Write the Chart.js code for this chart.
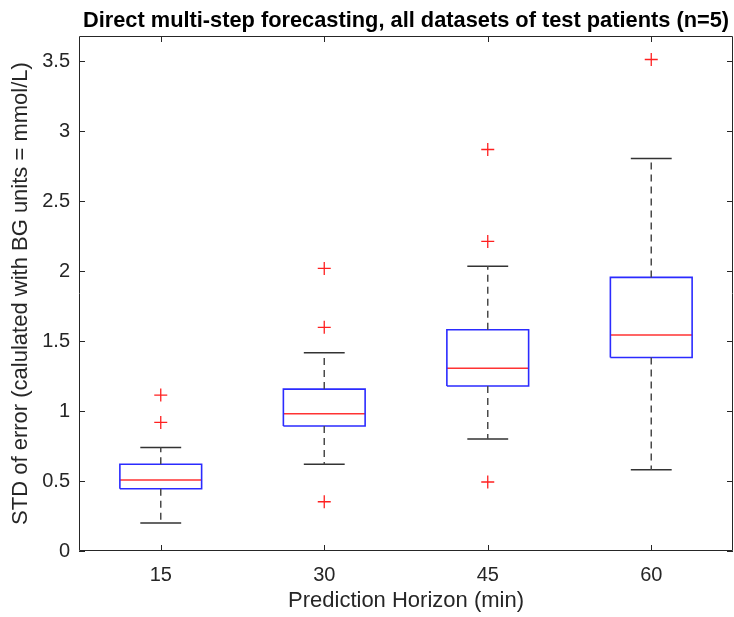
<!DOCTYPE html>
<html>
<head>
<meta charset="utf-8">
<script src="https://cdn.jsdelivr.net/npm/chart.js@4"></script>
<style>
  html, body { margin: 0; padding: 0; background: #fff; overflow: hidden; }
  #wrap { width: 734px; height: 617px; }
</style>
</head>
<body>
<div id="wrap"><canvas id="box-chart"></canvas></div>
<script>
// values
const horizons = ["15", "30", "45", "60"];
const lowerWhisker = [0.20, 0.62, 0.80, 0.58];
const q1 = [0.445, 0.893, 1.179, 1.383];
const medians = [0.507, 0.981, 1.305, 1.543];
const q3 = [0.62, 1.157, 1.581, 1.955];
const upperWhisker = [0.74, 1.417, 2.034, 2.805];
const outliers = [[1.114, 0.919], [2.019, 1.598, 0.352], [2.869, 2.212, 0.493], [3.512]];
const yTicks = [0, 0.5, 1, 1.5, 2, 2.5, 3, 3.5];
const chartTitle = "Direct multi-step forecasting, all datasets of test patients (n=5)";

const BOX_HALF = 0.25;  // half box width in category units
const CAP_HALF = 0.125; // half whisker cap width
const FONT = "Liberation Sans, Arial, sans-serif";

// build path points (null y breaks the line between boxes)
function boxPath() {
    const pts = [];
    horizons.forEach((_, i) => {
        const x = i + 1;
        pts.push({ x: x - BOX_HALF, y: q1[i] }, { x: x + BOX_HALF, y: q1[i] },
                 { x: x + BOX_HALF, y: q3[i] }, { x: x - BOX_HALF, y: q3[i] },
                 { x: x - BOX_HALF, y: q1[i] }, { x: x, y: null });
    });
    return pts;
}
function medianPath() {
    const pts = [];
    horizons.forEach((_, i) => {
        pts.push({ x: i + 1 - BOX_HALF, y: medians[i] }, { x: i + 1 + BOX_HALF, y: medians[i] }, { x: i + 1, y: null });
    });
    return pts;
}
function whiskerPath() {
    const pts = [];
    horizons.forEach((_, i) => {
        pts.push({ x: i + 1, y: q3[i] }, { x: i + 1, y: upperWhisker[i] }, { x: i + 1, y: null });
        pts.push({ x: i + 1, y: q1[i] }, { x: i + 1, y: lowerWhisker[i] }, { x: i + 1, y: null });
    });
    return pts;
}
function capPath() {
    const pts = [];
    horizons.forEach((_, i) => {
        [upperWhisker[i], lowerWhisker[i]].forEach(v => {
            pts.push({ x: i + 1 - CAP_HALF, y: v }, { x: i + 1 + CAP_HALF, y: v }, { x: i + 1, y: null });
        });
    });
    return pts;
}
function outlierPoints() {
    const pts = [];
    outliers.forEach((list, i) => list.forEach(v => pts.push({ x: i + 1, y: v })));
    return pts;
}

// MATLAB style frame with inward ticks on all four sides, title centred over the axes
const framePlugin = {
    id: "frame",
    afterDraw(chart) {
        const { ctx, chartArea: a, scales } = chart;
        const len = 6;
        ctx.save();
        ctx.strokeStyle = "#262626";
        ctx.lineWidth = 1;
        ctx.beginPath();
        ctx.rect(a.left + 0.5, a.top + 0.5, a.right - a.left - 1, a.bottom - a.top - 1);
        scales.x.ticks.forEach(t => {
            const px = Math.round(scales.x.getPixelForValue(t.value)) + 0.5;
            ctx.moveTo(px, a.bottom); ctx.lineTo(px, a.bottom - len);
            ctx.moveTo(px, a.top); ctx.lineTo(px, a.top + len);
        });
        scales.y.ticks.forEach(t => {
            const py = Math.round(scales.y.getPixelForValue(t.value)) + 0.5;
            ctx.moveTo(a.left, py); ctx.lineTo(a.left + len, py);
            ctx.moveTo(a.right, py); ctx.lineTo(a.right - len, py);
        });
        ctx.stroke();

        ctx.fillStyle = "#000";
        ctx.font = "bold 21.8px " + FONT;
        ctx.textAlign = "center";
        ctx.textBaseline = "alphabetic";
        ctx.fillText(chartTitle, (a.left + a.right) / 2, 26.5);
        ctx.restore();
    }
};

const ctx = document.getElementById("box-chart").getContext("2d");
new Chart(ctx, {
    type: "line",
    data: {
        datasets: [
            {
                label: "whiskers",
                data: whiskerPath(),
                borderColor: "#4a4a4a",
                borderWidth: 1.5,
                borderDash: [7, 5],
                pointRadius: 0,
                spanGaps: false,
            },
            {
                label: "caps",
                data: capPath(),
                borderColor: "#333333",
                borderWidth: 1.5,
                pointRadius: 0,
                spanGaps: false,
            },
            {
                label: "boxes",
                data: boxPath(),
                borderColor: "#2b2bff",
                borderWidth: 1.6,
                pointRadius: 0,
                spanGaps: false,
            },
            {
                label: "medians",
                data: medianPath(),
                borderColor: "#ff3333",
                borderWidth: 1.5,
                pointRadius: 0,
                spanGaps: false,
            },
            {
                label: "outliers",
                data: outlierPoints(),
                showLine: false,
                pointStyle: "cross",
                pointRadius: 6.5,
                pointBorderWidth: 1.3,
                pointBorderColor: "#ff2020",
                pointBackgroundColor: "#ff2020",
            },
        ],
    },
    options: {
        responsive: true,
        maintainAspectRatio: false,
        animation: false,
        events: [],
        layout: { autoPadding: false, padding: { left: 0, right: 1, top: 36, bottom: 0 } },
        plugins: {
            legend: { display: false },
            tooltip: { enabled: false },
            title: { display: false },
        },
        scales: {
            x: {
                type: "linear",
                min: 0.5,
                max: 4.5,
                grid: { display: false },
                border: { display: false },
                afterBuildTicks: (s) => { s.ticks = horizons.map((_, i) => ({ value: i + 1 })); },
                afterFit: (s) => { s.height = 66; s.paddingLeft = 0; s.paddingRight = 0; },
                ticks: {
                    callback: (v) => horizons[Math.round(v) - 1],
                    color: "#262626",
                    font: { family: FONT, size: 20 },
                    padding: 4,
                    maxRotation: 0,
                },
                title: {
                    display: true,
                    text: "Prediction Horizon (min)",
                    color: "#262626",
                    font: { family: FONT, size: 22 },
                    padding: { top: 0, bottom: 3 },
                },
            },
            y: {
                type: "linear",
                min: 0,
                max: 3.68,
                grid: { display: false },
                border: { display: false },
                afterBuildTicks: (s) => { s.ticks = yTicks.map(v => ({ value: v })); },
                afterFit: (s) => { s.width = 79; s.paddingTop = 0; s.paddingBottom = 0; },
                ticks: {
                    callback: (v) => String(v),
                    color: "#262626",
                    font: { family: FONT, size: 20 },
                    padding: 1,
                },
                title: {
                    display: true,
                    text: "STD of error (calulated with BG units = mmol/L)",
                    color: "#262626",
                    font: { family: FONT, size: 22 },
                    padding: { top: 8, bottom: 0 },
                },
            },
        },
    },
    plugins: [framePlugin],
});
</script>
</body>
</html>
